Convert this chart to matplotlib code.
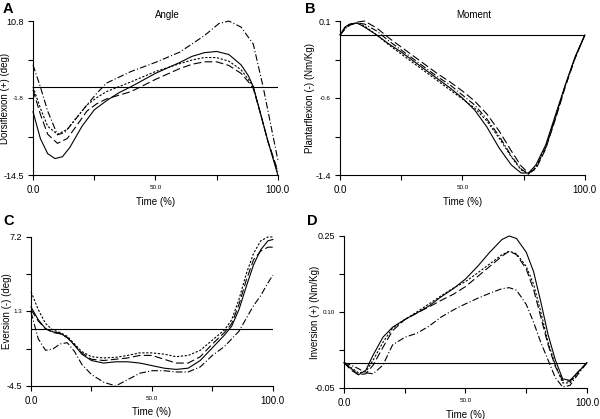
import matplotlib
matplotlib.use("Agg")
import matplotlib.pyplot as plt

plt.rcParams['font.family'] = ['Liberation Sans', 'DejaVu Sans']

# ---- panel A: ankle angle (deg)
a_x = [0, 3, 6, 9, 12, 15, 20, 25, 30, 35, 40, 50, 60, 65, 70, 75, 80, 85, 88, 90, 93, 96, 100]
a_solid = [-4.1, -8.5, -11.0, -11.8, -11.5, -10.0, -6.5, -3.8, -2.3, -1.0, 0.0, 2.2, 4.0, 5.0, 5.6, 5.8, 5.3, 3.6, 1.8, 0.0, -4.5, -9.0, -14.5]
a_x2 = [0, 3, 6, 10, 14, 18, 22, 26, 30, 40, 50, 60, 65, 70, 75, 80, 85, 88, 90, 93, 96, 100]
a_dot = [0.0, -3.5, -6.5, -7.8, -7.0, -5.0, -3.0, -1.8, -0.8, 0.8, 2.5, 3.8, 4.4, 4.8, 4.8, 4.2, 2.8, 1.2, 0.0, -4.5, -9.0, -14.0]
a_dash = [-0.5, -4.5, -7.8, -9.3, -8.5, -6.3, -4.0, -2.8, -2.0, -0.8, 1.2, 3.0, 3.7, 4.1, 4.1, 3.5, 2.2, 0.8, -0.3, -4.5, -9.0, -13.8]
a_x3 = [0, 3, 6, 10, 13, 17, 22, 26, 30, 40, 50, 60, 70, 76, 80, 85, 90, 94, 97, 100]
a_dashdot = [3.6, 0.0, -4.0, -7.9, -7.5, -5.5, -3.0, -1.1, 0.6, 2.5, 4.0, 5.7, 8.4, 10.4, 10.8, 9.8, 7.0, 0.0, -6.0, -12.0]

# ---- panel B: ankle moment (Nm/Kg)
b_x = [0, 2, 4, 7, 10, 15, 20, 25, 30, 35, 40, 45, 50, 55, 60, 65, 70, 74, 77, 80, 84, 88, 92, 96, 100]
b_solid = [0.0, 0.08, 0.11, 0.12, 0.08, 0.0, -0.09, -0.17, -0.26, -0.35, -0.44, -0.53, -0.63, -0.75, -0.92, -1.13, -1.30, -1.38, -1.38, -1.30, -1.10, -0.80, -0.50, -0.22, 0.0]
b_dot = [0.0, 0.07, 0.11, 0.12, 0.09, 0.0, -0.10, -0.19, -0.28, -0.37, -0.46, -0.55, -0.64, -0.73, -0.86, -1.03, -1.22, -1.35, -1.39, -1.32, -1.12, -0.82, -0.51, -0.23, 0.0]
b_dash = [0.0, 0.06, 0.10, 0.13, 0.14, 0.07, -0.03, -0.12, -0.21, -0.30, -0.39, -0.47, -0.56, -0.66, -0.79, -0.96, -1.16, -1.31, -1.38, -1.34, -1.14, -0.84, -0.52, -0.23, 0.0]
b_dashdot = [0.0, 0.06, 0.10, 0.12, 0.11, 0.04, -0.06, -0.15, -0.24, -0.33, -0.42, -0.50, -0.60, -0.70, -0.84, -1.01, -1.21, -1.34, -1.39, -1.33, -1.13, -0.83, -0.51, -0.23, 0.0]

# ---- panel C: subtalar angle (deg)
c_x = [0, 3, 6, 9, 12, 15, 18, 21, 25, 30, 35, 40, 45, 50, 55, 60, 65, 70, 75, 80, 83, 86, 89, 92, 95, 98, 100]
c_solid = [1.7, 0.7, 0.0, -0.25, -0.35, -0.7, -1.3, -2.0, -2.5, -2.7, -2.6, -2.6, -2.7, -2.9, -3.1, -3.2, -3.1, -2.5, -1.5, -0.5, 0.2, 1.5, 3.3, 5.0, 6.2, 6.9, 7.0]
c_dot = [2.9, 1.5, 0.4, -0.1, -0.3, -0.6, -1.2, -1.8, -2.2, -2.3, -2.25, -2.1, -1.9, -1.9, -2.0, -2.2, -2.1, -1.7, -0.9, -0.1, 0.7, 2.3, 4.3, 5.9, 6.9, 7.2, 7.2]
c_dash = [1.5, 0.6, 0.0, -0.3, -0.4, -0.7, -1.3, -1.9, -2.4, -2.5, -2.4, -2.3, -2.1, -2.1, -2.4, -2.7, -2.7, -2.2, -1.2, -0.3, 0.4, 1.9, 3.8, 5.4, 6.1, 6.4, 6.4]
c_dashdot = [1.3, -0.8, -1.7, -1.6, -1.2, -1.1, -1.8, -2.8, -3.6, -4.2, -4.5, -4.0, -3.5, -3.3, -3.3, -3.4, -3.4, -3.0, -2.1, -1.4, -0.8, -0.2, 0.8, 1.8, 2.6, 3.6, 4.2]

# ---- panel D: subtalar moment (Nm/Kg)
d_x = [0, 3, 6, 9, 12, 16, 20, 25, 30, 35, 40, 45, 50, 55, 60, 65, 68, 71, 75, 78, 81, 84, 87, 90, 93, 96, 100]
d_solid = [0.0, -0.012, -0.024, -0.015, 0.015, 0.05, 0.07, 0.085, 0.098, 0.112, 0.13, 0.146, 0.165, 0.19, 0.218, 0.243, 0.25, 0.245, 0.218, 0.18, 0.12, 0.055, 0.005, -0.032, -0.035, -0.02, 0.0]
d_dot = [0.0, -0.01, -0.02, -0.018, 0.005, 0.04, 0.068, 0.085, 0.1, 0.116, 0.132, 0.147, 0.16, 0.177, 0.195, 0.213, 0.22, 0.215, 0.19, 0.155, 0.1, 0.04, -0.005, -0.04, -0.04, -0.022, 0.0]
d_dash = [0.0, -0.015, -0.024, -0.022, -0.005, 0.03, 0.063, 0.085, 0.098, 0.11, 0.123, 0.135, 0.15, 0.17, 0.19, 0.21, 0.22, 0.213, 0.185, 0.145, 0.09, 0.035, -0.008, -0.035, -0.037, -0.02, 0.0]
d_dashdot = [0.0, -0.005, -0.012, -0.02, -0.022, -0.005, 0.035, 0.05, 0.058, 0.072, 0.09, 0.104, 0.116, 0.127, 0.137, 0.146, 0.148, 0.143, 0.115, 0.08, 0.04, 0.005, -0.03, -0.048, -0.045, -0.025, 0.0]

x_ticks = [0, 25, 50, 75, 100]
x_labels = ['0.0', '', '50.0', '', '100.0']

DOT = (0, (2, 1.5))
DASH = (0, (7, 3))
DASHDOT = (0, (6, 2, 1, 2))

panels = [
    # letter, letter pos, title, ylabel, ylim, ylabels, rect, ylabel x (axes coords), series
    ('A', (0.005, 0.969), 'Angle', 'Dorsiflexion (+) (deg)', (-14.5, 10.8), ['-14.5', '', '-1.8', '', '10.8'],
     [0.055, 0.5823, 0.408, 0.3675], -0.094,
     [(a_x, a_solid, '-'), (a_x2, a_dot, DOT), (a_x2, a_dash, DASH), (a_x3, a_dashdot, DASHDOT)]),
    ('B', (0.508, 0.969), 'Moment', 'Plantarflexion (-) (Nm/Kg)', (-1.4, 0.14), ['-1.4', '', '-0.6', '', '0.1'],
     [0.5667, 0.5823, 0.408, 0.3675], -0.102,
     [(b_x, b_solid, '-'), (b_x, b_dot, DOT), (b_x, b_dash, DASH), (b_x, b_dashdot, DASHDOT)]),
    ('C', (0.005, 0.463), '', 'Eversion (-) (deg)', (-4.5, 7.2), ['-4.5', '', '1.3', '', '7.2'],
     [0.0517, 0.0788, 0.403, 0.3556], -0.079,
     [(c_x, c_solid, '-'), (c_x, c_dot, DOT), (c_x, c_dash, DASH), (c_x, c_dashdot, DASHDOT)]),
    ('D', (0.512, 0.463), '', 'Inversion (+) (Nm/Kg)', (-0.05, 0.25), ['-0.05', '', '0.10', '', '0.25'],
     [0.5733, 0.074, 0.405, 0.3628], -0.099,
     [(d_x, d_solid, '-'), (d_x, d_dot, DOT), (d_x, d_dash, DASH), (d_x, d_dashdot, DASHDOT)]),
]

fig = plt.figure(figsize=(6.0, 4.19), dpi=100)

for letter, lpos, title, ylab, ylim, ylabels, rect, ylab_x, series in panels:
    ax = fig.add_axes(rect)
    for xs, ys, ls in series:
        ax.plot(xs, ys, color='black', lw=0.8, linestyle=ls, clip_on=False)
    ax.axhline(0, color='black', lw=0.8)
    ax.set_xlim(0, 100)
    ax.set_ylim(*ylim)
    lo, hi = ylim
    ax.set_yticks([lo + (hi - lo) * k / 4 for k in range(5)])
    ax.set_yticklabels(ylabels)
    ax.set_xticks(x_ticks)
    ax.set_xticklabels(x_labels)
    for i, t in enumerate(ax.get_yticklabels()):
        t.set_fontsize(4.5 if i == 2 else 6.5)
    for i, t in enumerate(ax.get_xticklabels()):
        t.set_fontsize(4.5 if i == 2 else 7)
    ax.tick_params(direction='out', length=3.5, width=0.8)
    ax.tick_params(axis='x', pad=4)
    ax.tick_params(axis='y', pad=3)
    ax.spines['top'].set_visible(False)
    ax.spines['right'].set_visible(False)
    ax.spines['left'].set_linewidth(0.8)
    ax.spines['bottom'].set_linewidth(0.8)
    ax.set_xlabel('Time (%)', fontsize=7)
    ax.xaxis.set_label_coords(0.5, -0.143)
    ax.set_ylabel(ylab, fontsize=7)
    ax.yaxis.set_label_coords(ylab_x, 0.5)
    x0, y0, w, h = rect
    fig.text(lpos[0], lpos[1], letter, fontsize=10.5, fontweight='bold', va='baseline', ha='left')
    if title:
        fig.text(x0 + w * 0.547, 0.957, title, fontsize=7, ha='center', va='baseline')

fig.savefig('out.png', dpi=100)
